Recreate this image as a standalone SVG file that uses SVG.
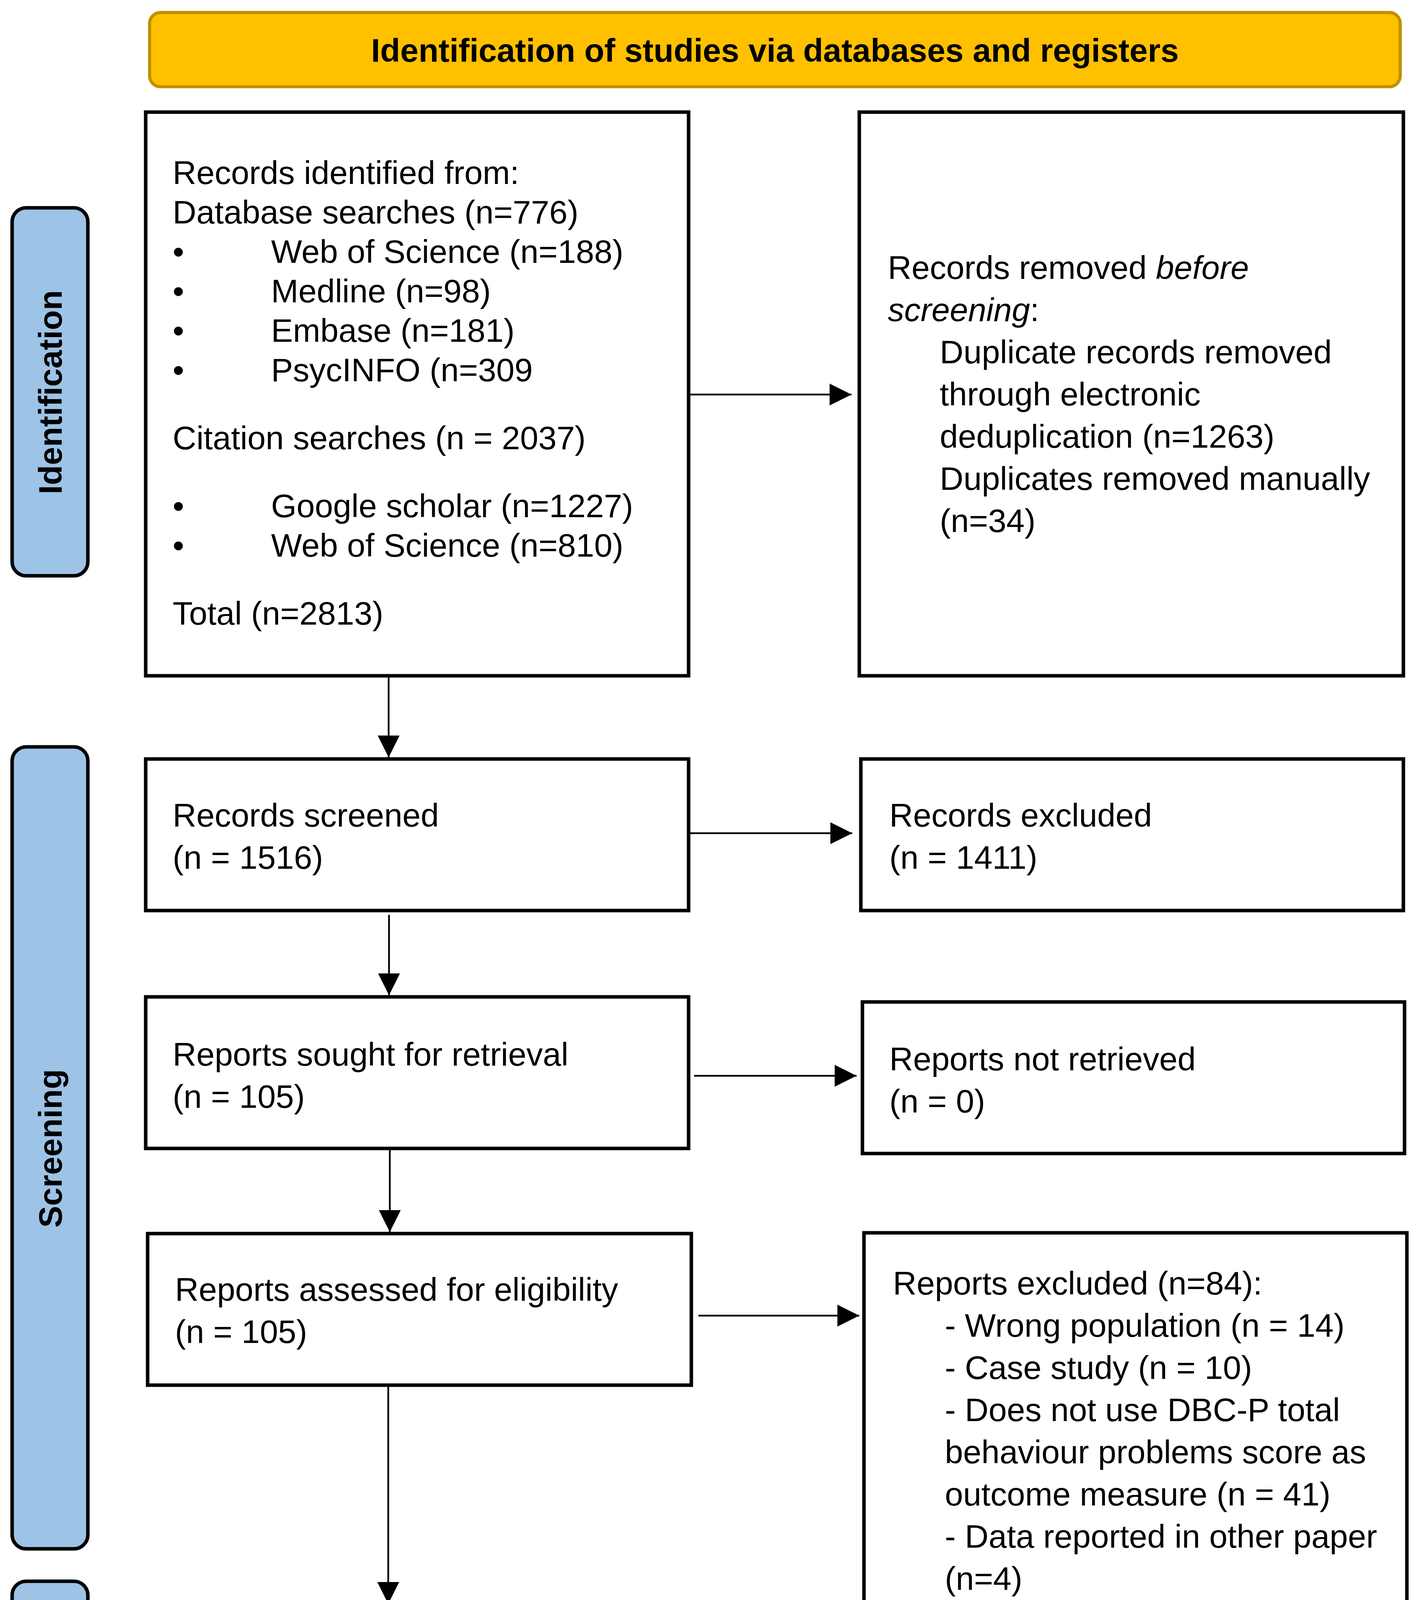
<svg xmlns="http://www.w3.org/2000/svg" width="3633" height="4730" viewBox="0 0 3633 4730">
<style>
.box{fill:#ffffff;stroke:#000000;stroke-width:9}
.stage{fill:#9DC3E6;stroke:#000000;stroke-width:9}
.title{fill:#FFC000;stroke:#BF9000;stroke-width:8}
text{font-family:"Liberation Sans",Arial,sans-serif;font-size:84px;fill:#000000}
.b{font-weight:bold}
.conn{stroke:#000000;stroke-width:4.5;fill:none}
</style>
<defs>
<marker id="ah" markerUnits="userSpaceOnUse" markerWidth="56" markerHeight="56" refX="56" refY="28" orient="auto">
<path d="M0,0 L56,28 L0,56 Z" fill="#000000"/>
</marker>
</defs>
<rect width="3633" height="4730" fill="#ffffff"/>

<g id="title">
<rect class="title" x="383" y="32" width="3202" height="190" rx="28" ry="28"/>
<text class="b" x="1984" y="158" text-anchor="middle">Identification of studies via databases and registers</text>
</g>

<g id="stage-identification">
<rect class="stage" x="31" y="532" width="194" height="942" rx="36" ry="36"/>
<text class="b" transform="translate(158,1004) rotate(-90)" text-anchor="middle">Identification</text>
</g>
<g id="stage-screening">
<rect class="stage" x="31" y="1912" width="194" height="2053" rx="36" ry="36"/>
<text class="b" transform="translate(158,2940) rotate(-90)" text-anchor="middle">Screening</text>
</g>
<g id="stage-included">
<rect class="stage" x="31" y="4048" width="194" height="568" rx="36" ry="36"/>
<text class="b" transform="translate(158,4334) rotate(-90)" text-anchor="middle">Included</text>
</g>

<g id="records-identified">
<rect class="box" x="373" y="287" width="1390" height="1443"/>
<text x="442" y="471">Records identified from:</text>
<text x="442" y="572">Database searches (n=776)</text>
<text x="442" y="673">•<tspan x="694">Web of Science (n=188)</tspan></text>
<text x="442" y="774">•<tspan x="694">Medline (n=98)</tspan></text>
<text x="442" y="875">•<tspan x="694">Embase (n=181)</tspan></text>
<text x="442" y="976">•<tspan x="694">PsycINFO (n=309</tspan></text>
<text x="442" y="1150">Citation searches (n = 2037)</text>
<text x="442" y="1324">•<tspan x="694">Google scholar (n=1227)</tspan></text>
<text x="442" y="1425">•<tspan x="694">Web of Science (n=810)</tspan></text>
<text x="442" y="1599">Total (n=2813)</text>
</g>

<g id="records-removed">
<rect class="box" x="2200" y="287" width="1393" height="1443"/>
<text x="2273" y="714">Records removed <tspan font-style="italic">before</tspan></text>
<text x="2273" y="822"><tspan font-style="italic">screening</tspan>:</text>
<text x="2406" y="930">Duplicate records removed</text>
<text x="2406" y="1038">through electronic</text>
<text x="2406" y="1146">deduplication (n=1263)</text>
<text x="2406" y="1254">Duplicates removed manually</text>
<text x="2406" y="1362">(n=34)</text>
</g>

<g id="records-screened">
<rect class="box" x="373" y="1943" width="1390" height="388"/>
<text x="442" y="2116">Records screened</text>
<text x="442" y="2224">(n = 1516)</text>
</g>

<g id="records-excluded">
<rect class="box" x="2204" y="1943" width="1389" height="388"/>
<text x="2277" y="2116">Records excluded</text>
<text x="2277" y="2224">(n = 1411)</text>
</g>

<g id="reports-sought">
<rect class="box" x="373" y="2552" width="1390" height="388"/>
<text x="442" y="2728">Reports sought for retrieval</text>
<text x="442" y="2836">(n = 105)</text>
</g>

<g id="reports-not-retrieved">
<rect class="box" x="2208" y="2565" width="1388" height="388"/>
<text x="2277" y="2740">Reports not retrieved</text>
<text x="2277" y="2848">(n = 0)</text>
</g>

<g id="reports-assessed">
<rect class="box" x="378" y="3158" width="1392" height="388"/>
<text x="448" y="3330">Reports assessed for eligibility</text>
<text x="448" y="3438">(n = 105)</text>
</g>

<g id="reports-excluded">
<rect class="box" x="2212" y="3156" width="1390" height="1544"/>
<text x="2286" y="3314">Reports excluded (n=84):</text>
<text x="2419" y="3422">- Wrong population (n = 14)</text>
<text x="2419" y="3530">- Case study (n = 10)</text>
<text x="2419" y="3638">- Does not use DBC-P total</text>
<text x="2419" y="3746">behaviour problems score as</text>
<text x="2419" y="3854">outcome measure (n = 41)</text>
<text x="2419" y="3962">- Data reported in other paper</text>
<text x="2419" y="4070">(n=4)</text>
<text x="2419" y="4178">- Non-empirical paper (n=3)</text>
<text x="2419" y="4286">- Conference abstract (n=4)</text>
<text x="2419" y="4394">- Could not obtain necessary</text>
<text x="2419" y="4502">DBC data (n=8)</text>
</g>

<g id="reports-included">
<rect class="box" x="360" y="4110" width="1392" height="536"/>
<text x="430" y="4358">Reports of included studies</text>
<text x="430" y="4466">(n = 21)</text>
</g>

<g id="connectors">
<line class="conn" x1="1763" y1="1010" x2="2180" y2="1010" marker-end="url(#ah)"/>
<line class="conn" x1="995" y1="1730" x2="995" y2="1939" marker-end="url(#ah)"/>
<line class="conn" x1="1763" y1="2133" x2="2182" y2="2133" marker-end="url(#ah)"/>
<line class="conn" x1="996" y1="2342" x2="996" y2="2548" marker-end="url(#ah)"/>
<line class="conn" x1="1777" y1="2754" x2="2193" y2="2754" marker-end="url(#ah)"/>
<line class="conn" x1="998" y1="2940" x2="998" y2="3154" marker-end="url(#ah)"/>
<line class="conn" x1="1788" y1="3368" x2="2200" y2="3368" marker-end="url(#ah)"/>
<line class="conn" x1="994" y1="3546" x2="994" y2="4106" marker-end="url(#ah)"/>
</g>
</svg>
